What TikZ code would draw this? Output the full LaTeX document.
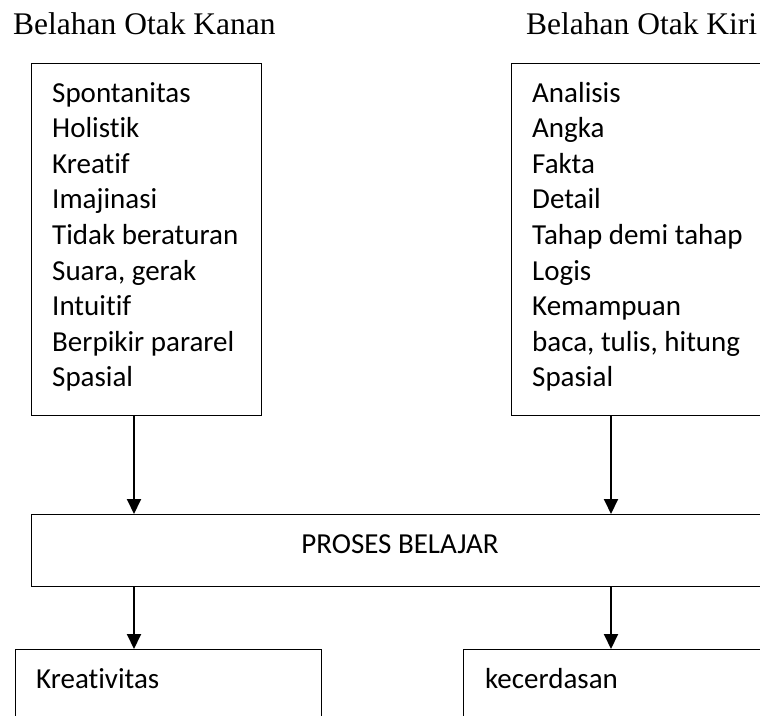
\documentclass[tikz,border=0pt]{standalone}
\usepackage{fontspec}
\setmainfont{Liberation Serif}
\newfontfamily\bodyfont[Ligatures={NoCommon,NoRare,NoContextual}]{Carlito}
\usetikzlibrary{arrows.meta}
\tikzset{
  box/.style={draw=black, line width=1.4pt, anchor=north west, inner sep=0pt},
  item/.style={font=\bodyfont\fontsize{29}{35}\selectfont, inner sep=0pt, anchor=base west},
  ttl/.style={font=\fontsize{31.5}{38}\selectfont, inner sep=0pt, anchor=base west},
  arr/.style={line width=1.9pt, -{Triangle[width=14pt,length=15pt]}}
}
\begin{document}
\begin{tikzpicture}[x=1pt,y=1pt]
\useasboundingbox (0,0) rectangle (760,-715);
\clip (0,0) rectangle (760,-715);
% titles
\node[ttl] (tk) at (13,-34) {Belahan Otak Kanan};
\node[ttl] (tr) at (526,-34) {Belahan Otak Kiri};
% top boxes
\node[box, minimum width=230pt, minimum height=352pt] (L) at (31,-63) {};
\node[box, minimum width=260pt, minimum height=352pt] (R) at (511,-63) {};
\foreach \t [count=\i] in {Spontanitas, Holistik, Kreatif, Imajinasi, Tidak beraturan, {Suara, gerak}, Intuitif, Berpikir pararel, Spasial}
  \node[item] (l\i) at (52,{-102-(\i-1)*35.6}) {\t};
\foreach \t [count=\i] in {Analisis, Angka, Fakta, Detail, Tahap demi tahap, Logis, Kemampuan, {baca, tulis, hitung}, Spasial}
  \node[item] (r\i) at (532,{-102-(\i-1)*35.6}) {\t};
% process box
\node[box, minimum width=740pt, minimum height=72pt] (P) at (31,-514) {};
\node[item, anchor=base] (pt) at (400,-553) {PROSES BELAJAR};
% bottom boxes
\node[box, minimum width=306.5pt, minimum height=120pt] (K) at (14.5,-649) {};
\node[box, minimum width=320pt, minimum height=120pt] (C) at (463,-649) {};
\node[item] (kt) at (36,-688) {Kreativitas};
\node[item] (ct) at (485,-688) {kecerdasan};
% arrows
\coordinate (xl) at (134,0);
\coordinate (xr) at (611,0);
\draw[arr] (xl |- L.south) -- (xl |- P.north);
\draw[arr] (xr |- R.south) -- (xr |- P.north);
\draw[arr] (xl |- P.south) -- (xl |- K.north);
\draw[arr] (xr |- P.south) -- (xr |- C.north);
\end{tikzpicture}
\end{document}
